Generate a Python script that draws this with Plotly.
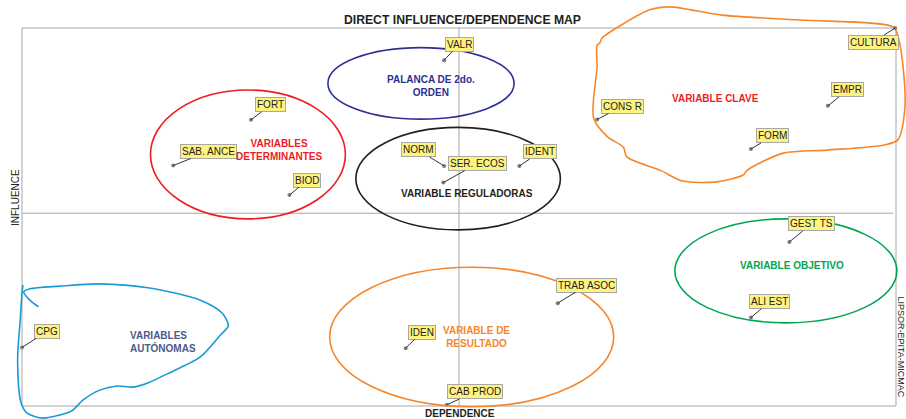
import plotly.graph_objects as go

# MICMAC variables: dependence (x) and influence (y), 0-100 scale
variables = ["VALR", "FORT", "SAB. ANCE", "BIOD", "NORM", "SER. ECOS", "IDENT",
             "CULTURA", "EMPR", "CONS R", "FORM", "GEST TS", "ALI EST",
             "TRAB ASOC", "IDEN", "CAB PROD", "CPG"]
dependence = [48.3, 26.2, 17.3, 30.6, 48.3, 48.2, 56.9,
              99.9, 92.2, 65.8, 83.4, 87.8, 83.4,
              61.3, 43.9, 48.6, 0.0]
influence = [91.5, 75.7, 63.6, 55.8, 63.5, 59.1, 63.5,
             100.0, 79.4, 75.8, 68.0, 43.4, 23.4,
             27.2, 15.3, 0.3, 15.5]

group_names = ["VARIABLES<br>DETERMINANTES", "PALANCA DE 2do.<br>ORDEN",
               "VARIABLE REGULADORAS", "VARIABLE CLAVE", "VARIABLE OBJETIVO",
               "VARIABLE DE<br>RESULTADO", "VARIABLES<br>AUTÓNOMAS"]

FONT = "Arial, Liberation Sans, sans-serif"
GRID = "#a6a6a6"

# label box offsets (pixels) from the point
label_offset = {
    "VALR": (15, -16), "FORT": (20, -15), "SAB. ANCE": (35, -14), "BIOD": (18, -15),
    "NORM": (-26, -16), "SER. ECOS": (34, -19), "IDENT": (21, -14),
    "CULTURA": (-22, 14), "EMPR": (20, -16), "CONS R": (25, -13), "FORM": (22, -13),
    "GEST TS": (22, -18), "ALI EST": (19, -16), "TRAB ASOC": (29, -18),
    "IDEN": (16, -16), "CAB PROD": (28, -13), "CPG": (25, -16),
}

# group text placement and colours
group_style = {
    "VARIABLES<br>DETERMINANTES": dict(x=29.4, y=67.7, color="#ee1c25"),
    "PALANCA DE 2do.<br>ORDEN": dict(x=46.8, y=84.7, color="#2e3192"),
    "VARIABLE REGULADORAS": dict(x=50.9, y=56.3, color="#231f20"),
    "VARIABLE CLAVE": dict(x=79.3, y=81.4, color="#ee1c25"),
    "VARIABLE OBJETIVO": dict(x=88.1, y=37.2, color="#00a651"),
    "VARIABLE DE<br>RESULTADO": dict(x=52.0, y=18.2, color="#f7862a"),
    "VARIABLES<br>AUTÓNOMAS": dict(x=16.1, y=17.0, color="#4d5a8a"),
}

# hand drawn ellipses around each group (x0, x1, y0, y1, colour)
ellipses = [
    (14.7, 37.0, 49.5, 83.6, "#ee1c25"),
    (35.0, 56.3, 75.9, 94.8, "#2e3192"),
    (38.2, 61.6, 46.6, 73.7, "#231f20"),
    (35.2, 67.7, -0.2, 36.7, "#f7862a"),
    (74.7, 100.1, 22.0, 49.5, "#00a651"),
]

clave_outline = [(74.1, 105.6), (80.1, 103.4), (89.0, 102.1), (99.7, 100.3),
                 (100.2, 98.0), (100.8, 90.0), (101.0, 78.3), (100.2, 70.4),
                 (98.5, 69.0), (92.1, 67.7), (87.1, 66.9), (83.0, 62.4),
                 (82.5, 61.1), (79.5, 59.3), (75.6, 59.5), (73.0, 62.4),
                 (69.2, 65.9), (68.8, 68.5), (67.0, 71.2), (65.4, 76.2),
                 (65.8, 89.7), (65.8, 95.5), (66.1, 96.0), (66.4, 97.4),
                 (68.8, 101.1), (71.8, 104.8), (74.1, 105.6)]

autonomas_outline = [(1.9, 26.2), (0.9, 28.0), (0.2, 30.2), (0.9, 31.0),
                     (4.3, 31.7), (8.9, 32.3), (14.6, 31.2), (20.4, 28.0),
                     (22.9, 24.6), (23.6, 21.2), (22.7, 18.8), (20.4, 13.0),
                     (16.6, 8.5), (14.6, 6.3), (12.7, 5.0), (10.9, 5.3),
                     (8.9, 4.2), (7.0, 1.6), (5.7, -1.3), (4.3, -2.4),
                     (2.4, -3.2), (0.6, -1.9), (-0.1, 0.8), (-0.5, 12.2),
                     (-0.2, 22.8), (0.0, 29.9), (0.1, 32.0)]

fig = go.Figure()

# frame and the two mid lines
fig.add_shape(type="rect", x0=0, x1=100, y0=0, y1=100, line=dict(color=GRID, width=1), layer="below")
fig.add_shape(type="line", x0=0, x1=99.7, y0=51, y1=51, line=dict(color=GRID, width=1), layer="below")
fig.add_shape(type="line", x0=50, x1=50, y0=0, y1=100, line=dict(color=GRID, width=1), layer="below")

for x0, x1, y0, y1, col in ellipses:
    fig.add_shape(type="circle", x0=x0, x1=x1, y0=y0, y1=y1, line=dict(color=col, width=1.6))

for pts, col in [(clave_outline, "#f7862a"), (autonomas_outline, "#1a9ad6")]:
    fig.add_trace(go.Scatter(x=[p[0] for p in pts], y=[p[1] for p in pts], mode="lines",
                             line=dict(color=col, width=1.6, shape="spline", smoothing=0.8),
                             hoverinfo="skip", showlegend=False))

fig.add_trace(go.Scatter(x=dependence, y=influence, mode="markers", text=variables,
                         marker=dict(color="#7f7f7f", size=4), showlegend=False,
                         hovertemplate="%{text}<extra></extra>"))

for name, x, y in zip(variables, dependence, influence):
    ax, ay = label_offset[name]
    fig.add_annotation(x=x, y=y, text=name, ax=ax, ay=ay, showarrow=True,
                       arrowhead=0, arrowwidth=1, arrowcolor="#333333", standoff=0,
                       bgcolor="#fff380", bordercolor="#a8a8a8", borderwidth=1, borderpad=1,
                       font=dict(family=FONT, size=10, color="#222222"))

for name in group_names:
    s = group_style[name]
    fig.add_annotation(x=s["x"], y=s["y"], text=f"<b>{name}</b>", showarrow=False,
                       align="left" if "AUTÓNOMAS" in name else "center",
                       font=dict(family=FONT, size=10, color=s["color"]))


def page_text(text, x, y, size, angle=0):
    fig.add_annotation(text=text, xref="paper", yref="paper", x=x / 906, y=1 - y / 419,
                       xanchor="center", yanchor="middle", textangle=angle, showarrow=False,
                       font=dict(family=FONT, size=size, color="#231f20"))


page_text("<b>DIRECT INFLUENCE/DEPENDENCE MAP</b>", 463, 20, 12.2)
page_text("<b>DEPENDENCE</b>", 460, 413, 10)
page_text("INFLUENCE", 15, 198, 10, angle=-90)
page_text("LIPSOR-EPITA-MICMAC", 900.5, 347, 9, angle=90)

fig.update_xaxes(visible=False, range=[-2.517, 101.144], fixedrange=True)
fig.update_yaxes(visible=False, range=[-3.439, 107.407], fixedrange=True)
fig.update_layout(width=906, height=419, margin=dict(l=0, r=0, t=0, b=0),
                  plot_bgcolor="white", paper_bgcolor="white", showlegend=False)

# page body has a default margin; remove it so the figure sits at the top-left corner
fig.write_html("out.html", config={"displayModeBar": False},
               post_script="document.body.style.margin='0';")
